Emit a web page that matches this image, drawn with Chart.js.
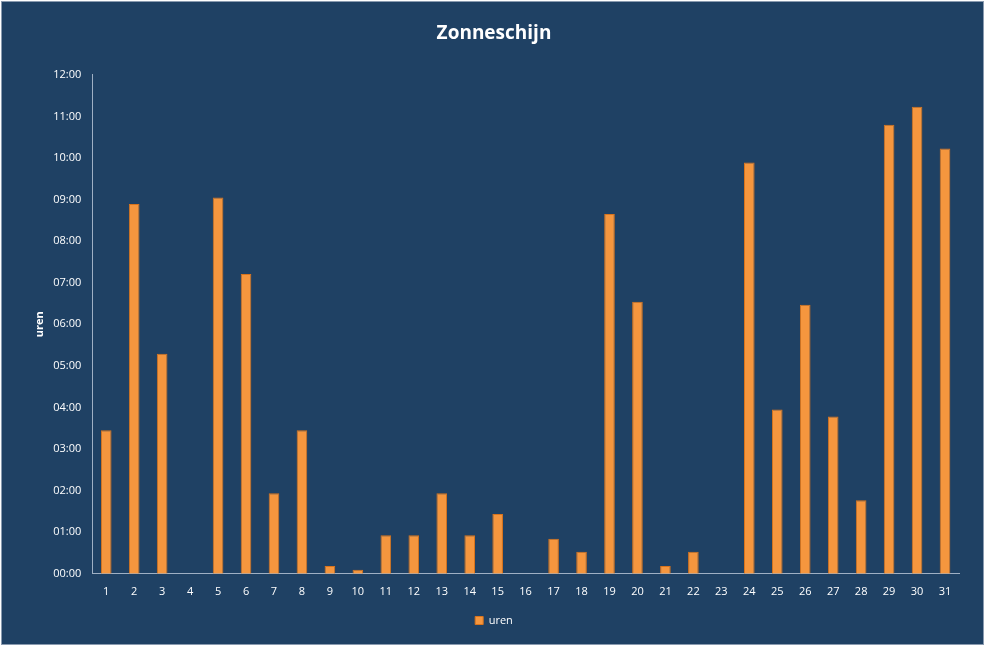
<!DOCTYPE html>
<html><head><meta charset="utf-8">
<script src="https://cdn.jsdelivr.net/npm/chart.js@4"></script>
<style>html,body{margin:0;padding:0;background:#fff}
#wrap{position:absolute;left:1px;top:1px;width:983px;height:644px;background:#1f4164;border:1px solid #8a9bb0;box-sizing:border-box}
</style></head><body>
<div id="wrap"><canvas id="c" width="981" height="642"></canvas></div>
<script>
const days = ["1","2","3","4","5","6","7","8","9","10","11","12","13","14","15","16","17","18","19","20","21","22","23","24","25","26","27","28","29","30","31"];
const uren = [3.45,8.89,5.29,0,9.05,7.21,1.94,3.45,0.19,0.1,0.93,0.93,1.94,0.93,1.44,0,0.84,0.53,8.65,6.54,0.19,0.53,0,9.89,3.95,6.47,3.78,1.77,10.8,11.23,10.23];
const yTicks = ["00:00","01:00","02:00","03:00","04:00","05:00","06:00","07:00","08:00","09:00","10:00","11:00","12:00"];
const ctx = document.getElementById('c').getContext('2d');
new Chart(ctx,{
  type:'bar',
  data:{labels:days,datasets:[{label:'uren',data:uren,
    backgroundColor:'#f5963e',borderColor:'#d9741c',borderWidth:1,
    barPercentage:0.38,categoryPercentage:1}]},
  options:{responsive:false,animation:false,
    layout:{padding:{left:27,right:24,top:0,bottom:8}},
    plugins:{
      title:{display:true,text:'Zonneschijn',color:'#fff',font:{family:'Open Sans',size:19,weight:'bold'},padding:{top:20,bottom:30}},
      legend:{position:'bottom',labels:{color:'#fff',boxWidth:8,boxHeight:8,font:{family:'Open Sans',size:11},padding:14}},
      tooltip:{enabled:false}},
    scales:{
      x:{grid:{display:false},border:{color:'#9fb0c4'},ticks:{color:'#fff',font:{family:'Open Sans',size:11}}},
      y:{min:0,max:12,grid:{display:false},border:{color:'#9fb0c4'},
        title:{display:true,text:'uren',color:'#fff',font:{family:'Open Sans',size:11,weight:'bold'}},
        ticks:{stepSize:1,color:'#fff',font:{family:'Open Sans',size:11},callback:(v)=>yTicks[v]}}}
  }
});
</script></body></html>
